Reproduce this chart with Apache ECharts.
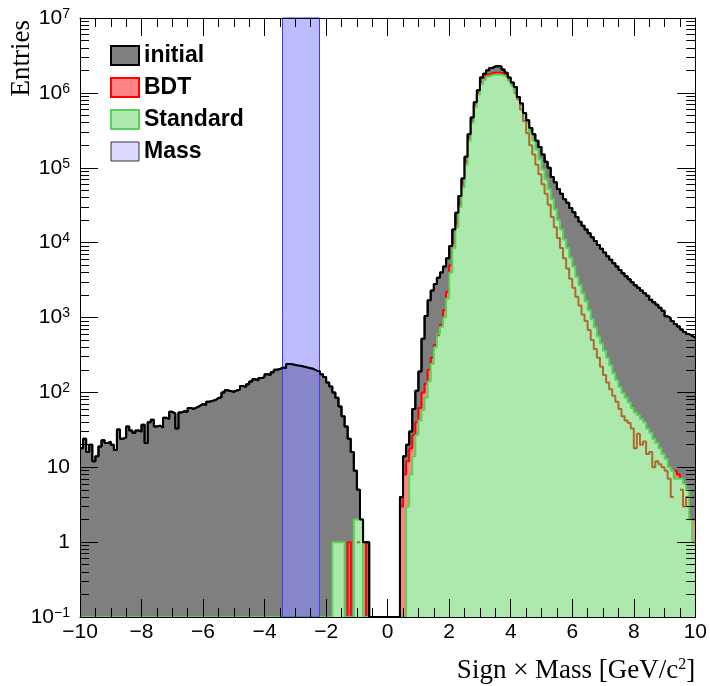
<!DOCTYPE html>
<html><head><meta charset="utf-8">
<script src="https://cdn.jsdelivr.net/npm/echarts@6/dist/echarts.min.js"></script>
<style>html,body{margin:0;padding:0;background:#fff}#c{width:710px;height:686px}</style>
</head><body><div id="c"></div>
<script>
// ---------------- data ----------------
const xMin = -10, xMax = 10, binWidth = 0.1;
const yMin = 0.1, yMax = 1e7;
const xTickInterval = 2;
const yTickValues = [0.1, 1, 10, 100, 1e3, 1e4, 1e5, 1e6, 1e7];
const seriesNames = ['initial', 'BDT', 'Standard', 'Mass'];

const initialLeftStart = -10.0;
const initialLeft = [
  18, 24, 16, 20, 12, 14, 19, 23, 21, 22,
  20, 17, 32, 24, 25, 35, 31, 29, 31, 30,
  37, 21, 40, 43, 35, 36, 34, 46, 44, 55,
  52, 33, 54, 56, 55, 62, 60, 63, 66, 70,
  68, 75, 77, 79, 84, 86, 100, 107, 104, 102,
  106, 110, 122, 118, 128, 140, 150, 145, 155, 160,
  175, 170, 185, 200, 205, 215, 210, 240, 238, 232,
  228, 225, 220, 215, 210, 205, 195, 190, 175, 160,
  135, 120, 100, 85, 65, 48, 35, 24, 16, 9,
  5, 2, 1, 1
];
const initialRightStart = 0.4;
const initialRight = [
  4, 14, 20, 30, 60, 105, 190, 520, 1050, 1700,
  2300, 2800, 3400, 4000, 4800, 6200, 9000, 15000, 25000, 42000,
  72000, 140000, 280000, 470000, 750000, 1080000, 1600000, 1800000, 2000000, 2150000,
  2250000, 2280000, 2250000, 2050000, 1850000, 1600000, 1380000, 1200000, 880000, 720000,
  540000, 430000, 340000, 280000, 230000, 190000, 150000, 120000, 100000, 75000,
  64000, 52000, 45000, 38000, 34000, 29000, 25500, 22000, 19000, 16800,
  15000, 13300, 11800, 10500, 9300, 8300, 7400, 6600, 5900, 5300,
  4800, 4300, 3900, 3550, 3250, 2950, 2700, 2500, 2300, 2100,
  1950, 1720, 1600, 1480, 1350, 1230, 1040, 980, 900, 820,
  760, 690, 640, 600, 570, 540
];

const bdtLeftStart = -1.7;
const bdtLeft = [1, 0, 0, 0, 1, 0, 0, 1, 0, 1];
const bdtRightStart = 0.4;
const bdtRight = [
  3, 8, 12, 18, 27, 40, 62, 100, 130, 200,
  290, 430, 580, 800, 1250, 2200, 5000, 10000, 18000, 33000,
  60000, 120000, 250000, 430000, 700000, 1000000, 1400000, 1600000, 1750000, 1820000,
  1860000, 1870000, 1850000, 1800000, 1700000, 1450000, 1250000, 1000000, 820000, 600000,
  420000, 290000, 200000, 150000, 110000, 82000, 60000, 45000, 32000, 22000,
  16000, 11500, 8500, 6200, 4500, 3300, 2500, 1900, 1450, 1100,
  900, 680, 500, 380, 290, 220, 170, 135, 110, 90,
  75, 60, 48, 42, 39, 33, 18, 28, 20, 22,
  15, 16, 10, 12, 11, 10, 9, 7, 4, 9,
  8, 5, 3, 4, 2, 2
];

const stdLeftStart = -1.8;
const stdLeft = [1, 1, 1, 1, 0, 0, 0, 2, 2, 2];
const stdRightStart = 0.6;
const stdRight = [
  3, 8, 14, 27, 42, 58, 85, 140, 240, 400,
  600, 750, 1000, 1800, 4000, 8500, 16000, 30000, 55000, 110000,
  230000, 400000, 650000, 950000, 1300000, 1500000, 1650000, 1720000, 1750000, 1760000,
  1740000, 1700000, 1620000, 1450000, 1250000, 1050000, 850000, 680000, 520000, 400000,
  300000, 230000, 175000, 130000, 95000, 70000, 52000, 38000, 28000, 20000,
  15000, 11000, 8500, 6300, 4800, 3500, 2700, 2100, 1650, 1250,
  950, 740, 560, 450, 360, 290, 230, 180, 146, 118,
  98, 85, 74, 62, 54, 50, 44, 40, 33, 29,
  24, 21, 18, 15, 13, 10, 9, 7, 7, 7,
  6, 5, 2, 1
];

const massWindow = [-3.42, -2.22];

// ---------------- helpers ----------------
function fillBins(segments) {
  const n = Math.round((xMax - xMin) / binWidth);
  const arr = new Array(n).fill(0);
  segments.forEach(([start, vals]) => {
    const i0 = Math.round((start - xMin) / binWidth);
    vals.forEach((v, k) => { arr[i0 + k] = v; });
  });
  return arr;
}
function edge(i) { return Math.round((xMin + i * binWidth) * 100) / 100; }
function stepData(arr) {
  const pts = [];
  for (let i = 0; i < arr.length; i++) pts.push([edge(i), arr[i] > 0 ? arr[i] : yMin]);
  const last = arr[arr.length - 1];
  pts.push([xMax, last > 0 ? last : yMin]);
  return pts;
}
// BDT outline where it lies inside the Standard fill (seen through the hatched fill)
function hiddenStepData(a, b) {
  const pts = [];
  const inside = i => i < a.length && a[i] > 0 && a[i] < b[i];
  for (let i = 0; i < a.length; i++) {
    if (!inside(i)) continue;
    pts.push([edge(i), a[i]]);
    if (!inside(i + 1)) { pts.push([edge(i + 1), a[i]]); pts.push([edge(i + 1), null]); }
  }
  return pts;
}

const initialBins = fillBins([[initialLeftStart, initialLeft], [initialRightStart, initialRight]]);
const bdtBins = fillBins([[bdtLeftStart, bdtLeft], [bdtRightStart, bdtRight]]);
const stdBins = fillBins([[stdLeftStart, stdLeft], [stdRightStart, stdRight]]);

const minorYTicks = [];
for (let e = -1; e < 7; e++) for (let m = 2; m <= 9; m++) minorYTicks.push(+(m * Math.pow(10, e)).toPrecision(3));
const majorXTicks = [], minorXTicks = [];
for (let k = 0; k <= (xMax - xMin) / (xTickInterval / 4) + 1e-9; k++) {
  const v = Math.round((xMin + k * xTickInterval / 4) * 100) / 100;
  (k % 4 === 0 ? majorXTicks : minorXTicks).push(v);
}

function yLabel(v) {
  const e = Math.round(Math.log10(v));
  if (e === 0) return '1';
  if (e === 1) return '10';
  return '10{sup|' + (e < 0 ? '\u2212' + (-e) : e) + '}';
}
function xLabel(v) { return v < 0 ? '\u2212' + Math.abs(v) : String(v); }

const FONT = 'Liberation Sans';
const SERIF = 'Liberation Serif';
const tickStyle = { color: '#000', width: 1 };
const AXIS_Z = 10;
const MAJOR_LEN = 18, MINOR_LEN = 9;

const COL = {
  initLine: '#000000', initFill: '#7f7f7f',
  bdtLine: '#ff0000', bdtFill: '#ff8585',
  stdLine: '#5ad25a', stdFill: '#ade9ad',
  bdtHidden: '#ae6a2e',
  massFill: 'rgba(140,140,255,0.58)', massLine: '#3c3cff',
  tickOver: 'rgba(0,0,0,0.6)'
};

function histSeries(name, data, lineColor, fill, z) {
  const s = {
    type: 'line', name, data, step: 'end',
    xAxisIndex: 0, yAxisIndex: 0, z,
    symbol: 'none', showSymbol: false,
    itemStyle: { color: lineColor },
    lineStyle: { color: lineColor, width: 2 },
    emphasis: { disabled: true }, silent: true
  };
  if (fill) s.areaStyle = { color: fill, opacity: 1, origin: 'start' };
  return s;
}
function sp(x) { const d = Math.round(x * 2); return d % 2 !== 0 ? d / 2 : (d + 1) / 2; }

const yBase = { type: 'log', logBase: 10, min: yMin, max: yMax, gridIndex: 0, z: AXIS_Z, splitLine: { show: false } };

const option = {
  animation: false,
  backgroundColor: '#fff',
  grid: { left: 80, right: 13, top: 18, bottom: 69, show: false, z: AXIS_Z },
  legend: {
    left: 110, top: 44, orient: 'vertical', padding: 0, z: 20,
    itemWidth: 28, itemHeight: 19, itemGap: 9, selectedMode: false,
    textStyle: { fontFamily: FONT, fontWeight: 'bold', fontSize: 23, color: '#000', lineHeight: 19 },
    data: [
      { name: seriesNames[0], icon: 'rect', itemStyle: { color: COL.initFill, borderColor: '#000', borderWidth: 2 } },
      { name: seriesNames[1], icon: 'rect', itemStyle: { color: COL.bdtFill, borderColor: COL.bdtLine, borderWidth: 2 } },
      { name: seriesNames[2], icon: 'rect', itemStyle: { color: COL.stdFill, borderColor: COL.stdLine, borderWidth: 2 } },
      { name: seriesNames[3], icon: 'rect', itemStyle: { color: 'rgba(150,150,255,0.35)', borderColor: '#333', borderWidth: 1 } }
    ]
  },
  xAxis: [
    {
      type: 'value', min: xMin, max: xMax, interval: xTickInterval, position: 'bottom', z: AXIS_Z,
      axisLine: { show: true, onZero: false, lineStyle: tickStyle },
      axisTick: { show: true, inside: true, length: MAJOR_LEN, lineStyle: tickStyle },
      minorTick: { show: true, splitNumber: 4, length: MINOR_LEN, lineStyle: tickStyle },
      splitLine: { show: false },
      axisLabel: { formatter: xLabel, fontFamily: FONT, fontSize: 21, color: '#000', margin: 5 },
      name: 'Sign \u00d7 Mass [GeV/c{sup|2}]', nameLocation: 'end', nameGap: 0, nameMoveOverlap: false,
      nameTextStyle: {
        fontFamily: SERIF, fontSize: 27, color: '#000', align: 'right', verticalAlign: 'top',
        padding: [40, 0, 0, 0],
        rich: { sup: { fontFamily: SERIF, fontSize: 16, color: '#000', verticalAlign: 'top' } }
      }
    },
    {
      type: 'value', min: xMin, max: xMax, interval: xTickInterval, position: 'top', z: AXIS_Z,
      axisLine: { show: true, onZero: false, lineStyle: tickStyle },
      axisTick: { show: true, inside: true, length: MAJOR_LEN, lineStyle: tickStyle },
      minorTick: { show: true, splitNumber: 4, length: MINOR_LEN, lineStyle: tickStyle },
      splitLine: { show: false }, axisLabel: { show: false }
    }
  ],
  yAxis: [
    Object.assign({}, yBase, {
      position: 'left',
      axisLine: { show: true, onZero: false, lineStyle: tickStyle },
      axisTick: { show: true, inside: true, length: MAJOR_LEN, lineStyle: tickStyle, customValues: yTickValues },
      axisLabel: {
        customValues: yTickValues, formatter: yLabel, fontFamily: FONT, fontSize: 21, color: '#000', margin: 10,
        lineHeight: 22,
        rich: { sup: { fontFamily: FONT, fontSize: 14, color: '#000', verticalAlign: 'top', lineHeight: 22 } }
      },
      name: 'Entries', nameLocation: 'end', nameRotate: 90, nameGap: -2, nameMoveOverlap: false,
      nameTextStyle: { fontFamily: SERIF, fontSize: 27, color: '#000', align: 'right', verticalAlign: 'bottom', padding: [0, 0, 45, 0] }
    }),
    Object.assign({}, yBase, {
      position: 'left',
      axisLine: { show: false, onZero: false },
      axisTick: { show: true, inside: true, length: MINOR_LEN, lineStyle: tickStyle, customValues: minorYTicks },
      axisLabel: { show: false }
    }),
    Object.assign({}, yBase, {
      position: 'right',
      axisLine: { show: true, onZero: false, lineStyle: tickStyle },
      axisTick: { show: true, inside: true, length: MAJOR_LEN, lineStyle: tickStyle, customValues: yTickValues },
      axisLabel: { show: false }
    }),
    Object.assign({}, yBase, {
      position: 'right',
      axisLine: { show: false, onZero: false },
      axisTick: { show: true, inside: true, length: MINOR_LEN, lineStyle: tickStyle, customValues: minorYTicks },
      axisLabel: { show: false }
    })
  ],
  series: [
    histSeries(seriesNames[0], stepData(initialBins), COL.initLine, COL.initFill, -9),
    histSeries(seriesNames[1], stepData(bdtBins), COL.bdtLine, COL.bdtFill, -8),
    histSeries(seriesNames[2], stepData(stdBins), COL.stdLine, COL.stdFill, -7),
    histSeries(seriesNames[1], hiddenStepData(bdtBins, stdBins), COL.bdtHidden, null, -6),
    {
      type: 'custom', name: seriesNames[3], xAxisIndex: 0, yAxisIndex: 0, z: -5, silent: true,
      dimensions: ['lo', 'hi'], encode: { x: ['lo', 'hi'] },
      data: [[massWindow[0], massWindow[1]]],
      renderItem: function (params, api) {
        const p0 = api.coord([api.value(0), yMax]);
        const p1 = api.coord([api.value(1), yMin]);
        return {
          type: 'rect',
          shape: { x: Math.round(p0[0]) + 0.5, y: p0[1], width: Math.round(p1[0] - p0[0]), height: p1[1] - p0[1] },
          style: { fill: COL.massFill, stroke: COL.massLine, lineWidth: 1 }
        };
      }
    },
    histSeries(seriesNames[0], stepData(initialBins), COL.initLine, null, -4),
    {
      // frame ticks seen through the filled histograms
      type: 'custom', name: 'ticks', xAxisIndex: 0, yAxisIndex: 0, z: 30, silent: true, clip: false,
      dimensions: ['x'], encode: { x: 'x' },
      data: [[0]],
      renderItem: function (params, api) {
        const children = [];
        const add = (x1, y1, x2, y2) => children.push({
          type: 'line', shape: { x1, y1, x2, y2 }, style: { stroke: COL.tickOver, lineWidth: 1 }
        });
        const xt = (v, len) => {
          const b = api.coord([v, yMin]), t = api.coord([v, yMax]);
          const x = sp(b[0]);
          add(x, b[1], x, b[1] - len);
          add(x, t[1], x, t[1] + len);
        };
        const yt = (v, len) => {
          const l = api.coord([xMin, v]), r = api.coord([xMax, v]);
          const y = sp(l[1]);
          add(l[0], y, l[0] + len, y);
          add(r[0], y, r[0] - len, y);
        };
        majorXTicks.forEach(v => xt(v, MAJOR_LEN));
        minorXTicks.forEach(v => xt(v, MINOR_LEN));
        yTickValues.forEach(v => yt(v, MAJOR_LEN));
        minorYTicks.forEach(v => yt(v, MINOR_LEN));
        return { type: 'group', children };
      }
    }
  ]
};

const chart = echarts.init(document.getElementById('c'), null, { renderer: 'canvas' });
chart.setOption(option);
</script></body></html>
